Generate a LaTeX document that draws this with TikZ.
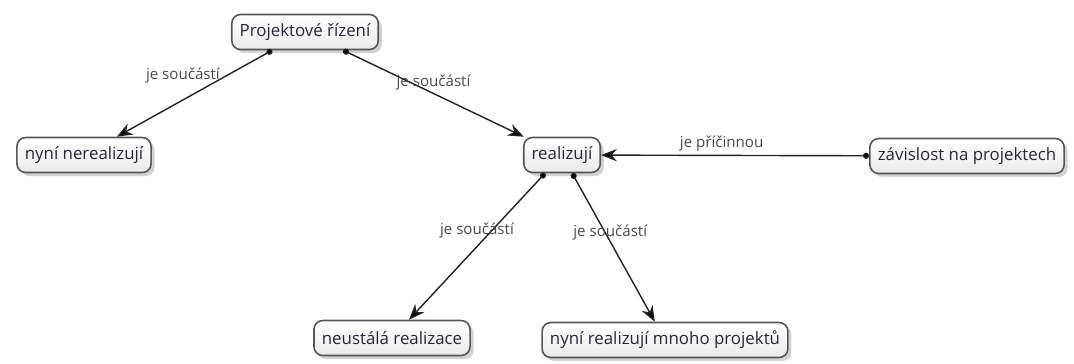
\documentclass[tikz,border=0pt]{standalone}
\usepackage{fontspec}
\setmainfont{Open Sans}
\usepackage{tikz}
\usetikzlibrary{arrows.meta,shadows,positioning}
\definecolor{cborder}{HTML}{555555}
\definecolor{cfill}{HTML}{EAEAEA}
\definecolor{ctext}{HTML}{2A2634}
\definecolor{clabel}{HTML}{4A4A4A}
\definecolor{clink}{HTML}{222222}
\tikzstyle{concept}=[rectangle, rounded corners=5pt, draw=cborder, line width=0.9pt, top color=white, bottom color=cfill, text=ctext, font=\fontsize{9.6}{11}\selectfont, inner xsep=4.5pt, minimum height=0.7cm, drop shadow={shadow xshift=2pt, shadow yshift=-2pt, opacity=0.35}]
\tikzstyle{lbl}=[text=clabel, font=\fontsize{8.6}{10}\selectfont, inner sep=1pt]

\begin{document}
\begin{tikzpicture}[x=0.02cm, y=-0.02cm, {Circle[length=3.5pt]}-{Stealth[length=9pt,width=7pt]}, line width=0.8pt]
%
  \useasboundingbox (0,0) rectangle (1074,363);
  \node[concept] (pr) at (305,32) {Projektové řízení};
  \node[concept] (nn) at (84,155) {nyní nerealizují};
  \node[concept] (re) at (562,155) {realizují};
  \node[concept] (zp) at (967,156) {závislost na projektech};
  \node[concept] (nr) at (392,338) {neustálá realizace};
  \node[concept] (nm) at (665,340) {nyní realizují mnoho projektů};
%
  \path[draw=clink]
  (pr) edge node[lbl, pos=0.45, above left=0pt, xshift=0.4cm, yshift=2pt] {je součástí} (nn)
  (pr) edge node[lbl, pos=0.5, yshift=6pt] {je součástí} (re)
  (re) edge node[lbl, pos=0.39, xshift=-0.3cm] {je součástí} (nr)
  (re) edge node[lbl, pos=0.4, xshift=0.1cm] {je součástí} (nm)
  (zp) edge node[lbl, pos=0.55, above=1pt] {je příčinnou} (re);
%
\end{tikzpicture}
\end{document}
